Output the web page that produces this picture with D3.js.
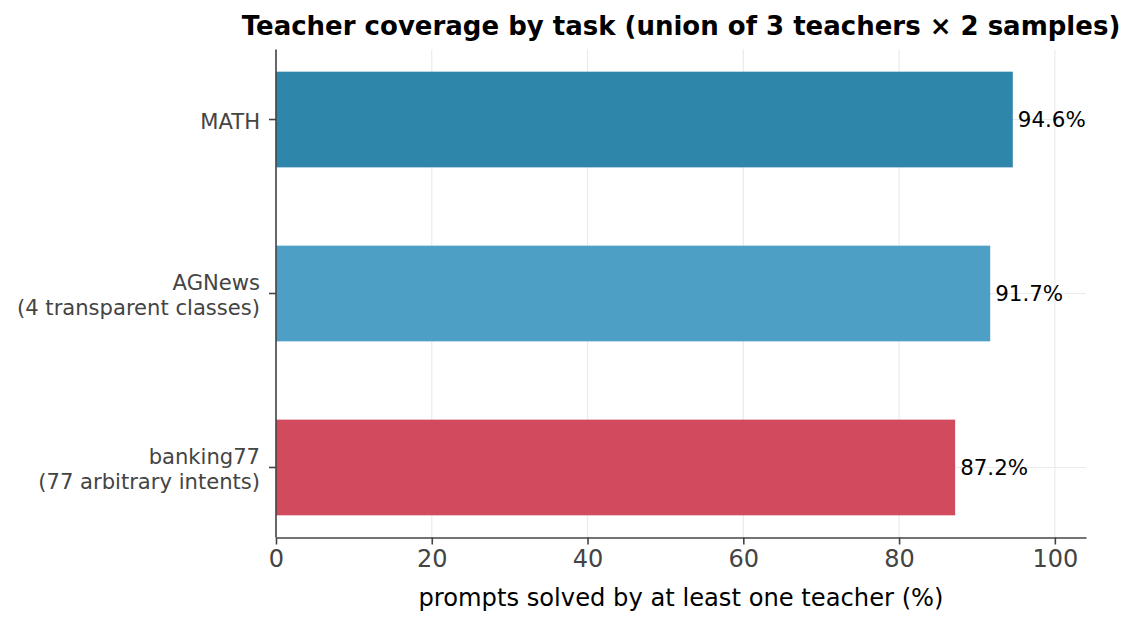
<!DOCTYPE html>
<html>
<head>
<meta charset="utf-8">
<script src="https://cdn.jsdelivr.net/npm/d3@7"></script>
<style>
  html, body { margin: 0; padding: 0; background: #fff; }
  svg { display: block; font-family: "DejaVu Sans", sans-serif; }
</style>
</head>
<body>
<svg id="chart" width="1139" height="628"></svg>
<script>
// Data
const categories = [
  ["MATH"],
  ["AGNews", "(4 transparent classes)"],
  ["banking77", "(77 arbitrary intents)"]
];
const values = [94.6, 91.7, 87.2];
const colors = ["#2E86AB", "#4D9FC5", "#D14A5D"];
const xTicks = [0, 20, 40, 60, 80, 100];
const titleText = "Teacher coverage by task (union of 3 teachers \u00d7 2 samples)";
const xLabelText = "prompts solved by at least one teacher (%)";

const svg = d3.select("#chart");
const W = 1139, H = 628;
const margin = { left: 276, right: W - 1086, top: 49.5, bottom: H - 537.5 };

const x = d3.scaleLinear().domain([0, 104]).range([margin.left, W - margin.right]);
const barH = 0.55;
const y = d3.scaleLinear().domain([-0.4025, 2.4025]).range([margin.top, H - margin.bottom]);

// grid
const grid = svg.append("g");
grid.selectAll("line.vx").data(xTicks).join("line")
  .attr("x1", d => x(d)).attr("x2", d => x(d))
  .attr("y1", y(-0.4025)).attr("y2", y(2.4025))
  .attr("stroke", "#ebebeb").attr("stroke-width", 1.2);
grid.selectAll("line.hy").data(values).join("line")
  .attr("x1", x(0)).attr("x2", x(104))
  .attr("y1", (d, i) => y(i)).attr("y2", (d, i) => y(i))
  .attr("stroke", "#ebebeb").attr("stroke-width", 1.2);

// bars
svg.append("g").selectAll("rect").data(values).join("rect")
  .attr("x", x(0))
  .attr("y", (d, i) => y(i - barH / 2))
  .attr("width", d => x(d) - x(0))
  .attr("height", (d, i) => y(i + barH / 2) - y(i - barH / 2))
  .attr("fill", (d, i) => colors[i]);

// value labels
svg.append("g").selectAll("text").data(values).join("text")
  .attr("x", d => x(d) + 5)
  .attr("y", (d, i) => y(i) + 7.5)
  .attr("font-size", 21.4)
  .attr("fill", "#000")
  .text(d => d.toFixed(1) + "%");

// x axis
const xAxis = svg.append("g").attr("transform", `translate(0,${H - margin.bottom})`)
  .call(d3.axisBottom(x).tickValues(xTicks).tickSize(7).tickPadding(5).tickSizeOuter(0));
xAxis.select(".domain").attr("stroke", "#444").attr("stroke-width", 1.6);
xAxis.selectAll(".tick line").attr("stroke", "#444").attr("stroke-width", 1.6);
xAxis.selectAll(".tick text").attr("font-size", 24).attr("fill", "#444")
  .attr("font-family", "DejaVu Sans");

// y axis
const yAxis = svg.append("g").attr("transform", `translate(${margin.left},0)`);
yAxis.append("line")
  .attr("x1", 0).attr("x2", 0)
  .attr("y1", y(-0.4025)).attr("y2", y(2.4025))
  .attr("stroke", "#444").attr("stroke-width", 1.6);
categories.forEach((lines, i) => {
  yAxis.append("line")
    .attr("x1", -7).attr("x2", 0)
    .attr("y1", y(i)).attr("y2", y(i))
    .attr("stroke", "#444").attr("stroke-width", 1.6);
  const t = yAxis.append("text")
    .attr("text-anchor", "end")
    .attr("font-size", 21.1)
    .attr("fill", "#444");
  const n = lines.length;
  lines.forEach((ln, j) => {
    t.append("tspan")
      .attr("x", -16)
      .attr("y", y(i) + 9 + (j - (n - 1) / 2) * 25.5)
      .text(ln);
  });
});

// title
svg.append("text")
  .attr("x", (x(0) + x(104)) / 2)
  .attr("y", 35)
  .attr("text-anchor", "middle")
  .attr("font-size", 26)
  .attr("font-weight", "bold")
  .attr("fill", "#000")
  .text(titleText);

// x label
svg.append("text")
  .attr("x", (x(0) + x(104)) / 2)
  .attr("y", 606)
  .attr("text-anchor", "middle")
  .attr("font-size", 24.2)
  .attr("fill", "#000")
  .text(xLabelText);
</script>
</body>
</html>
